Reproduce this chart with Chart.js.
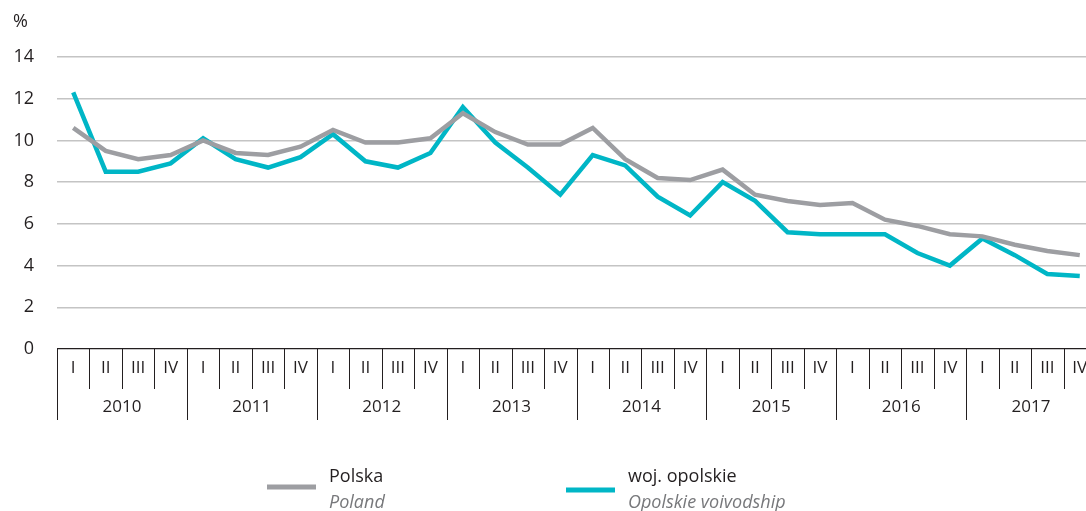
<!DOCTYPE html>
<html>
<head>
<meta charset="utf-8">
<script src="https://cdn.jsdelivr.net/npm/chart.js@4/dist/chart.umd.min.js"></script>
<style>
  html, body { margin: 0; padding: 0; background: #fff; overflow: hidden; }
  canvas { display: block; }
</style>
</head>
<body>
<canvas id="chart" width="1096" height="511"></canvas>
<script>
// Data
const years = [2010, 2011, 2012, 2013, 2014, 2015, 2016, 2017];
const quarterNames = ['I', 'II', 'III', 'IV'];
const polska = [10.6, 9.5, 9.1, 9.3, 10.0, 9.4, 9.3, 9.7, 10.5, 9.9, 9.9, 10.1, 11.3, 10.4, 9.8, 9.8,
                10.6, 9.1, 8.2, 8.1, 8.6, 7.4, 7.1, 6.9, 7.0, 6.2, 5.9, 5.5, 5.4, 5.0, 4.7, 4.5];
const opolskie = [12.3, 8.5, 8.5, 8.9, 10.1, 9.1, 8.7, 9.2, 10.3, 9.0, 8.7, 9.4, 11.6, 9.9, 8.7, 7.4,
                  9.3, 8.8, 7.3, 6.4, 8.0, 7.1, 5.6, 5.5, 5.5, 5.5, 4.6, 4.0, 5.3, 4.5, 3.6, 3.5];
const yTicks = [0, 2, 4, 6, 8, 10, 12, 14];

const labels = years.flatMap((y) => quarterNames.map((q) => q + ' ' + y));
const FONT = '"Open Sans", sans-serif';
const TEXT = '#231f20';

Chart.defaults.font.family = FONT;
Chart.defaults.font.size = 18;
Chart.defaults.color = TEXT;

// quarter / year axis below the plot, plus the % unit and the legend
const extras = {
  id: 'extras',
  afterDraw(chart) {
    const { ctx, chartArea, scales } = chart;
    const x = scales.x;
    const step = x.getPixelForValue(1) - x.getPixelForValue(0);
    const base = chartArea.bottom;
    ctx.save();

    ctx.strokeStyle = TEXT;
    ctx.lineWidth = 1;
    for (let i = 0; i <= labels.length; i++) {
      const px = Math.round(x.getPixelForValue(i) - step / 2) + 0.5;
      const end = i % 4 === 0 ? base + 71 : base + 40;
      ctx.beginPath();
      ctx.moveTo(px, base);
      ctx.lineTo(px, end);
      ctx.stroke();
    }

    ctx.fillStyle = TEXT;
    ctx.font = '17px ' + FONT;
    ctx.textAlign = 'center';
    ctx.textBaseline = 'middle';
    labels.forEach((l, i) => {
      ctx.fillText(quarterNames[i % 4], x.getPixelForValue(i), base + 19);
    });
    years.forEach((y, k) => {
      const cx = (x.getPixelForValue(k * 4) + x.getPixelForValue(k * 4 + 3)) / 2;
      ctx.fillText(String(y), cx, base + 58);
    });

    // unit
    ctx.textAlign = 'left';
    ctx.font = '18px ' + FONT;
    ctx.fillText('%', 13, 22);

    // legend
    const items = [
      { x: 267, y: 487, main: 'Polska', sub: 'Poland', ds: 0 },
      { x: 566, y: 490, main: 'woj. opolskie', sub: 'Opolskie voivodship', ds: 1 },
    ];
    items.forEach((it) => {
      const ds = chart.data.datasets[it.ds];
      ctx.strokeStyle = ds.borderColor;
      ctx.lineWidth = 5;
      ctx.beginPath();
      ctx.moveTo(it.x, it.y);
      ctx.lineTo(it.x + 49, it.y);
      ctx.stroke();
      ctx.textBaseline = 'alphabetic';
      ctx.fillStyle = TEXT;
      ctx.font = '18px ' + FONT;
      ctx.fillText(it.main, it.x + 62, 482);
      ctx.fillStyle = '#77787b';
      ctx.font = 'italic 18px ' + FONT;
      ctx.fillText(it.sub, it.x + 62, 508);
    });
    ctx.restore();
  },
};

new Chart(document.getElementById('chart').getContext('2d'), {
  type: 'line',
  data: {
    labels: labels,
    datasets: [
      {
        label: 'Polska',
        data: polska,
        borderColor: '#9d9ea2',
        borderWidth: 4.5,
        pointRadius: 0,
        tension: 0,
      },
      {
        label: 'woj. opolskie',
        data: opolskie,
        borderColor: '#00b6c6',
        borderWidth: 4.5,
        pointRadius: 0,
        tension: 0,
      },
    ],
  },
  options: {
    responsive: false,
    animation: false,
    events: [],
    layout: { padding: { top: 57, bottom: 162, left: 0, right: 0 } },
    plugins: {
      legend: { display: false },
      tooltip: { enabled: false },
    },
    scales: {
      x: {
        offset: true,
        ticks: { display: false },
        grid: { display: false },
        border: { display: false },
        afterFit: (s) => { s.height = 0; },
      },
      y: {
        min: 0,
        max: 14,
        afterBuildTicks: (s) => { s.ticks = yTicks.map((v) => ({ value: v })); },
        afterFit: (s) => { s.width = 57; },
        ticks: { padding: 23, color: TEXT, font: { size: 18 } },
        border: { display: false },
        grid: {
          drawTicks: false,
          color: (c) => (c.tick && c.tick.value === 0 ? TEXT : '#c4c4c4'),
          lineWidth: (c) => (c.tick && c.tick.value === 0 ? 1.2 : 1.5),
        },
      },
    },
  },
  plugins: [extras],
});
</script>
</body>
</html>
